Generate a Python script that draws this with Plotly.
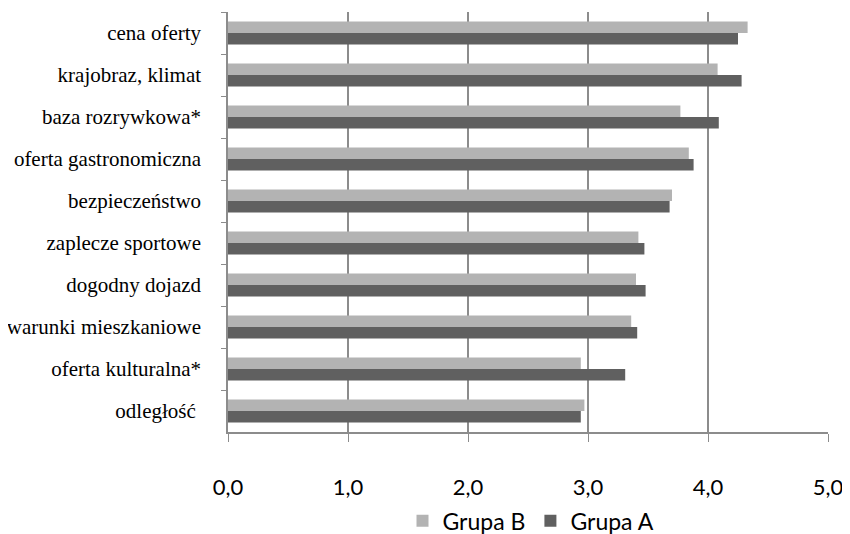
import plotly.graph_objects as go

categories = ["cena oferty", "krajobraz, klimat", "baza rozrywkowa*", "oferta gastronomiczna",
              "bezpieczeństwo", "zaplecze sportowe", "dogodny dojazd", "warunki mieszkaniowe",
              "oferta kulturalna*", "odległość "]
grupa_b = [4.33, 4.08, 3.77, 3.84, 3.70, 3.42, 3.40, 3.36, 2.94, 2.97]
grupa_a = [4.25, 4.28, 4.09, 3.88, 3.68, 3.47, 3.48, 3.41, 3.31, 2.94]
x_ticks = [0, 1, 2, 3, 4, 5]
x_tick_labels = ["0,0", "1,0", "2,0", "3,0", "4,0", "5,0"]

fig = go.Figure()
fig.add_trace(go.Bar(y=categories, x=grupa_b, orientation="h", name="Grupa B",
                     marker=dict(color="#b3b3b3", line=dict(width=0))))
fig.add_trace(go.Bar(y=categories, x=grupa_a, orientation="h", name="Grupa A",
                     marker=dict(color="#606060", line=dict(width=0))))

fig.update_layout(
    width=842, height=526,
    margin=dict(l=220, r=22, t=4, b=102),
    plot_bgcolor="white", paper_bgcolor="white",
    barmode="group", bargap=0.45, bargroupgap=0,
    showlegend=True,
    legend=dict(orientation="h", x=0.505, xanchor="center",
                yref="container", y=0.025, yanchor="middle",
                font=dict(family="Lato", size=23, color="#000000"),
                traceorder="normal"),
    xaxis=dict(range=[0, 5], tickvals=x_ticks, ticktext=x_tick_labels,
               automargin=False,
               showgrid=True, gridcolor="#8c8c8c", gridwidth=1.5,
               showline=True, linecolor="#8c8c8c", linewidth=1.5,
               ticks="outside", ticklen=8, tickcolor="#8c8c8c",
               ticklabelstandoff=27,
               tickfont=dict(family="Lato", size=22, color="#000000"),
               zeroline=False),
    yaxis=dict(autorange="reversed", type="category", automargin=False,
               showgrid=False, showline=True, linecolor="#8c8c8c", linewidth=1.5,
               ticks="outside", ticklen=5, tickcolor="#8c8c8c", tickson="boundaries",
               ticklabelstandoff=21,
               tickfont=dict(family="Liberation Serif", size=21, color="#000000")),
)

fig.write_html("out.html")
